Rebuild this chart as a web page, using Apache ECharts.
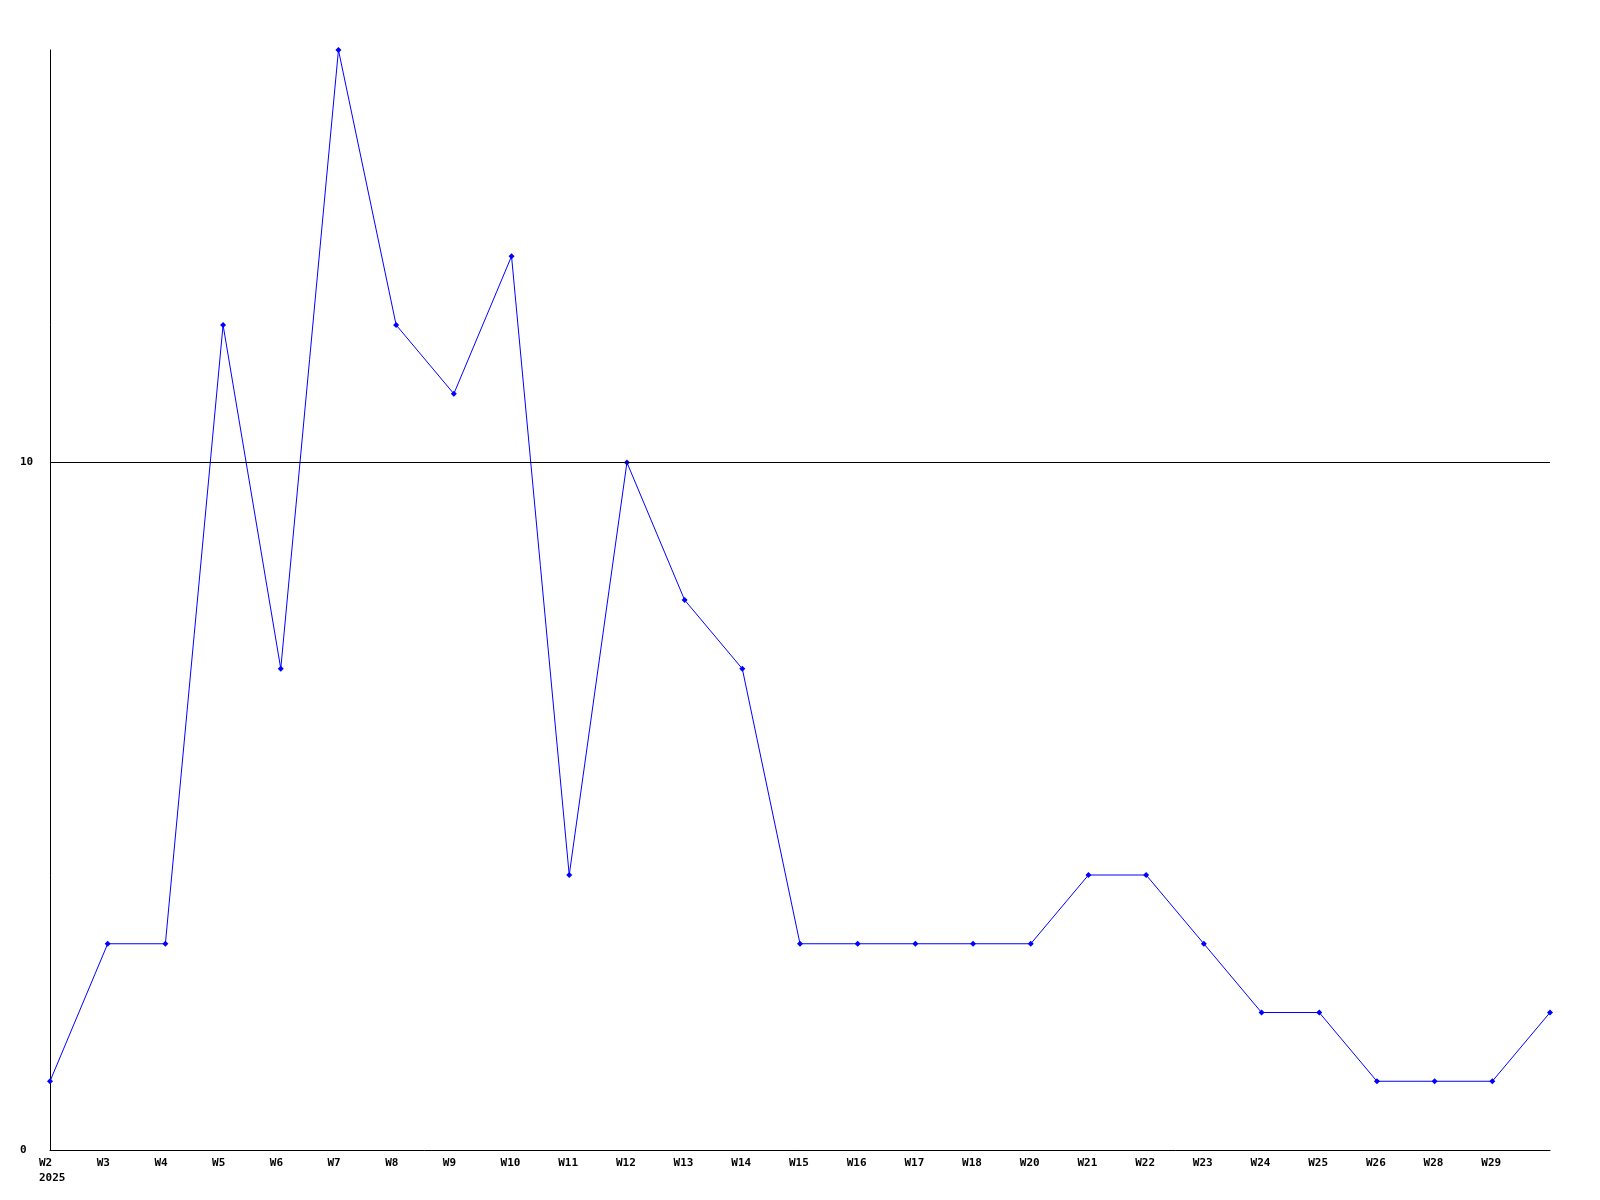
<!DOCTYPE html>
<html>
<head>
<meta charset="utf-8">
<script src="https://cdn.jsdelivr.net/npm/echarts@6/dist/echarts.min.js"></script>
<style>
html,body{margin:0;padding:0;background:#fff;}
#chart{width:1600px;height:1200px;}
</style>
</head>
<body>
<div id="chart"></div>
<script>
const categories = ['W2','W3','W4','W5','W6','W7','W8','W9','W10','W11','W12','W13','W14','W15','W16','W17','W18','W20','W21','W22','W23','W24','W25','W26','W28','W29',''];
const yearLabel = '2025';
const values = [1,3,3,12,7,16,12,11,13,4,10,8,7,3,3,3,3,3,4,4,3,2,2,1,1,1,2];
const yMax = 16;
const yInterval = 10;
const refLineValue = 10;

const font = 'DejaVu Sans Mono';
const chart = echarts.init(document.getElementById('chart'), null, {renderer:'canvas'});
chart.setOption({
  backgroundColor:'#ffffff',
  animation:false,
  grid:{left:50,right:50,top:50,bottom:50,containLabel:false},
  xAxis:{
    type:'category',
    data:categories,
    boundaryGap:false,
    axisLine:{lineStyle:{color:'#000',width:1}},
    axisTick:{show:false},
    splitLine:{show:false},
    axisLabel:{
      interval:0,
      align:'left',
      padding:[0,0,0,-11],
      margin:6,
      lineHeight:15,
      color:'#000',
      fontFamily:font,
      fontWeight:'bold',
      fontSize:11,
      formatter:function(v,i){return i===0 ? v+'\n'+yearLabel : v;}
    }
  },
  yAxis:{
    type:'value',
    min:0,
    max:yMax,
    interval:yInterval,
    axisLine:{show:true,lineStyle:{color:'#000',width:1}},
    axisTick:{show:false},
    splitLine:{show:false},
    axisLabel:{
      align:'left',
      margin:30,
      padding:[2,0,0,0],
      color:'#000',
      fontFamily:font,
      fontWeight:'bold',
      fontSize:11,
      formatter:function(v){return (v%yInterval===0)? String(v) : '';}
    }
  },
  series:[{
    type:'line',
    data:values,
    symbol:'diamond',
    symbolSize:6,
    showSymbol:true,
    lineStyle:{color:'#0000ff',width:1},
    itemStyle:{color:'#0000ff'},
    markLine:{
      silent:true,
      symbol:['none','none'],
      label:{show:false},
      lineStyle:{color:'#000',width:1,type:'solid'},
      data:[{yAxis:refLineValue}]
    }
  }]
});
</script>
</body>
</html>
